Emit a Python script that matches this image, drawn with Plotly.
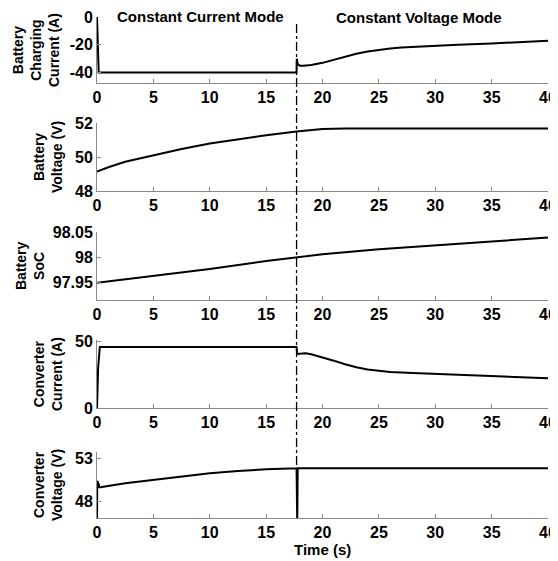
import plotly.graph_objects as go

W, H = 558, 561
OFF = 8  # page body margin compensation

# ---- data ----
bat_cur_t = [0, 0.08, 0.15, 17.7, 17.72, 17.8, 18.0, 18.3, 19, 20, 21, 22, 23, 24, 25, 26, 27, 28, 30, 32, 35, 38, 40]
bat_cur = [0, -20, -40, -40, -30, -34, -35, -35, -34.5, -33, -30.8, -28.5, -26.5, -24.8, -23.6, -22.7, -22.0, -21.5, -20.8, -20.0, -19.0, -17.8, -17.1]

bat_v_t = [0, 1, 2.5, 5, 7.5, 10, 12.5, 15, 17.7, 19, 20, 22, 25, 30, 35, 40]
bat_v = [49.15, 49.4, 49.72, 50.1, 50.47, 50.79, 51.05, 51.28, 51.5, 51.6, 51.64, 51.67, 51.68, 51.68, 51.68, 51.68]

soc_t = [0, 5, 10, 15, 17.7, 20, 25, 30, 35, 40]
soc = [97.950, 97.963, 97.977, 97.993, 98.000, 98.006, 98.016, 98.024, 98.032, 98.039]

conv_i_t = [0, 0.1, 0.25, 17.7, 17.75, 18.0, 18.5, 19, 20, 21, 22, 23, 24, 25, 26, 28, 30, 33, 35, 38, 40]
conv_i = [0, 30, 45.8, 45.8, 40.5, 40.8, 41.0, 40.3, 38.0, 35.5, 32.8, 30.5, 28.8, 27.7, 27.0, 26.2, 25.6, 24.8, 24.1, 23.1, 22.3]

conv_v_t = [0, 0.02, 0.05, 0.08, 0.12, 0.16, 0.2, 0.3, 2.5, 5, 7.5, 10, 12.5, 15, 17.7, 17.72, 17.76, 17.8, 20, 25, 30, 35, 40]
conv_v = [45.5, 50.4, 49.5, 50.3, 49.6, 50.1, 49.7, 49.7, 50.15, 50.53, 50.95, 51.31, 51.57, 51.78, 51.9, 45.5, 45.5, 51.9, 51.9, 51.9, 51.9, 51.9, 51.9]

x_ticks = [0, 5, 10, 15, 20, 25, 30, 35, 40]
mode_switch_t = 17.7

panels = [
    (bat_cur_t, bat_cur, [-47.5, 0], [-40, -20, 0], ["-40", "-20", "0"], "Battery<br>Charging<br>Current (A)", 17, 83, 36),
    (bat_v_t, bat_v, [48, 52], [48, 50, 52], ["48", "50", "52"], "Battery<br>Voltage (V)", 123, 191, 48),
    (soc_t, soc, [97.916, 98.05], [97.95, 98.0, 98.05], ["97.95", "98", "98.05"], "Battery<br>SoC", 232, 300, 30),
    (conv_i_t, conv_i, [0, 51], [0, 50], ["0", "50"], "Converter<br>Current (A)", 340, 408, 48),
    (conv_v_t, conv_v, [46.1, 53.8], [48, 53], ["48", "53"], "Converter<br>Voltage (V)", 452, 518, 48),
]


def px(p):
    return (p - OFF) / W


def py(p):
    return 1 - (p - OFF) / H


FONT = "Liberation Sans, Arial, sans-serif"
fig = go.Figure()
layout = dict(width=W, height=H, margin=dict(l=0, r=0, t=0, b=0, autoexpand=False),
              paper_bgcolor="white", plot_bgcolor="white", showlegend=False)
annotations = []
for k, (tx, ty, yr, yt, ytl, title, top, bot, tx_px) in enumerate(panels, start=1):
    xa = "x" if k == 1 else f"x{k}"
    ya = "y" if k == 1 else f"y{k}"
    fig.add_trace(go.Scatter(x=tx, y=ty, mode="lines", xaxis=xa, yaxis=ya,
                             line=dict(color="black", width=2)))
    axstyle = dict(showline=True, linecolor="#8a8a8a", linewidth=1, ticks="inside",
                   ticklen=4, tickcolor="#8a8a8a", showgrid=False, zeroline=False,
                   automargin=False,
                   tickfont=dict(family=FONT, size=16, color="black", weight="bold"))
    layout[f"xaxis{'' if k == 1 else k}"] = dict(
        domain=[px(97), px(548)], range=[0, 40], tickvals=x_ticks,
        anchor=ya, **axstyle)
    layout[f"yaxis{'' if k == 1 else k}"] = dict(
        domain=[py(bot), py(top)], range=yr, tickvals=yt, ticktext=ytl,
        anchor=xa, **axstyle)
    annotations.append(dict(text=title, xref="paper", yref="paper",
                            x=px(tx_px), y=py((top + bot) / 2), textangle=-90,
                            showarrow=False, xanchor="center", yanchor="middle",
                            font=dict(family=FONT, size=14, color="black", weight="bold")))

annotations += [
    dict(text="Constant Current Mode", xref="paper", yref="paper", x=px(200), y=py(17),
         xanchor="center", yanchor="middle",
         showarrow=False, font=dict(family=FONT, size=15, color="black", weight="bold")),
    dict(text="Constant Voltage Mode", xref="paper", yref="paper", x=px(419), y=py(18),
         xanchor="center", yanchor="middle",
         showarrow=False, font=dict(family=FONT, size=15, color="black", weight="bold")),
    dict(text="Time (s)", xref="paper", yref="paper", x=px(322), y=py(549),
         xanchor="center", yanchor="middle",
         showarrow=False, font=dict(family=FONT, size=15, color="black", weight="bold")),
]
layout["annotations"] = annotations
layout["shapes"] = [dict(type="line", xref="x", yref="paper", x0=mode_switch_t, x1=mode_switch_t,
                         y0=py(465), y1=py(22),
                         line=dict(color="black", width=1.3, dash="dashdot"))]
fig.update_layout(**layout)
fig.write_html("out.html")
